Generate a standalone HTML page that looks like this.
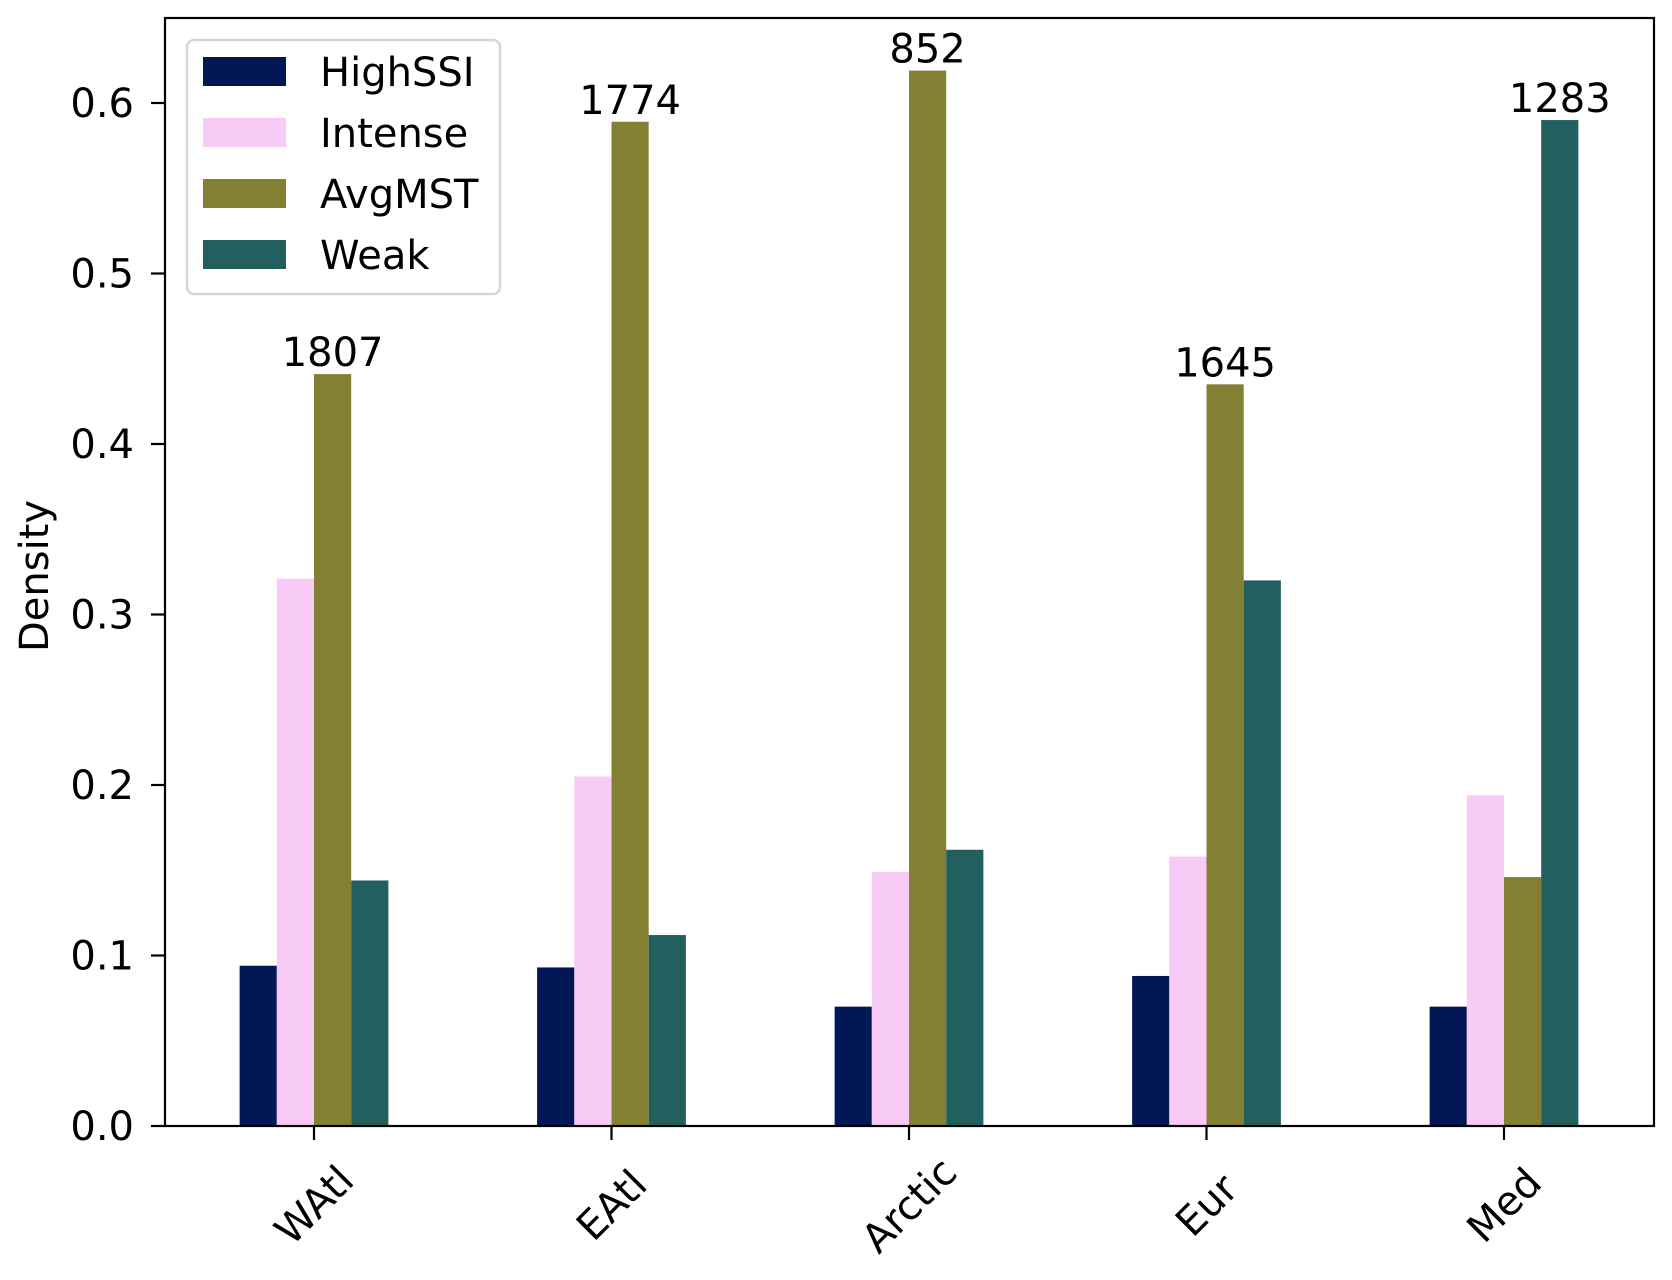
<!DOCTYPE html>
<html><head><meta charset="utf-8"><style>
html,body{margin:0;padding:0;background:#fff;}
svg{display:block;font-family:"DejaVu Sans","Liberation Sans",sans-serif;}
</style></head><body>
<svg id="chart" width="1672" height="1280" viewBox="0 0 1672 1280" xmlns="http://www.w3.org/2000/svg">
<g id="bars"></g>
<g id="axes"></g>
<g id="legend"></g>
</svg>
<script>
const categories = ["WAtl","EAtl","Arctic","Eur","Med"];
const seriesNames = ["HighSSI","Intense","AvgMST","Weak"];
const highSSI = [0.094,0.093,0.070,0.088,0.070];
const intense = [0.321,0.205,0.149,0.158,0.194];
const avgMST = [0.441,0.589,0.619,0.435,0.146];
const weak = [0.144,0.112,0.162,0.320,0.590];
const countLabels = ["1807","1774","852","1645","1283"];
const yTicks = [0.0,0.1,0.2,0.3,0.4,0.5,0.6];
const colors = ["#021856","#f8cbf6","#838033","#225f5f"];

const NS="http://www.w3.org/2000/svg";
const L=165,R=1654,T=18,B=1126;
const FS='40';
const xs = v => 314 + v*297.5;
const ys = v => 1126 - v*1705;
function mk(tag,attrs,parent,text){const e=document.createElementNS(NS,tag);for(const k in attrs)e.setAttribute(k,attrs[k]);if(text!==undefined)e.textContent=text;parent.appendChild(e);return e;}
const barsG=document.getElementById('bars'),axesG=document.getElementById('axes'),legG=document.getElementById('legend');
const series=[highSSI,intense,avgMST,weak];
const bw=0.125;
series.forEach((s,si)=>{
  s.forEach((v,ci)=>{
    const x0=xs(ci-0.25+si*bw), x1=xs(ci-0.25+(si+1)*bw);
    const r=mk('rect',{x:x0,y:ys(v),width:x1-x0,height:ys(0)-ys(v),fill:colors[si]},barsG);
    
    
  });
});
categories.forEach((c,ci)=>{
  let mi=0;series.forEach((s,si)=>{if(s[ci]>series[mi][ci])mi=si;});
  const v=series[mi][ci];
  const t=mk('text',{x:xs(ci-0.25+(mi+0.5)*bw),y:ys(v)-8,'text-anchor':'middle','font-size':FS,fill:'#000'},barsG,countLabels[ci]);
  
  
});
const fr=mk('rect',{x:L,y:T,width:R-L,height:B-T,fill:'none',stroke:'#000','stroke-width':2.2},axesG);


yTicks.forEach(v=>{
  const y=ys(v);
  mk('line',{x1:L-14,x2:L,y1:y,y2:y,stroke:'#000','stroke-width':2.2},axesG);
  const t=mk('text',{x:L-31,y:y+14,'text-anchor':'end','font-size':FS},axesG,v.toFixed(1));
  
  
});
categories.forEach((c,ci)=>{
  const x=xs(ci);
  mk('line',{x1:x,x2:x,y1:B,y2:B+14,stroke:'#000','stroke-width':2.2},axesG);
  const t=mk('text',{x:x,y:1219,'text-anchor':'middle','font-size':FS,transform:`rotate(-45 ${x} 1205)`},axesG,c);
  
  
});
const yl=mk('text',{x:48,y:576,'text-anchor':'middle','font-size':FS,transform:'rotate(-90 48 576)'},axesG,'Density');


const lb=mk('rect',{x:187,y:40,width:313,height:254,rx:7,fill:'#fff',stroke:'#d6d6d6','stroke-width':2.5},legG);


seriesNames.forEach((n,i)=>{
  const cy=72+i*61;
  const g=mk('g',{},legG);
  
  
  mk('rect',{x:203,y:cy-15,width:83,height:29,fill:colors[i]},g);
  mk('text',{x:320,y:cy+14,'font-size':FS},g,n);
});
</script>
</body></html>
